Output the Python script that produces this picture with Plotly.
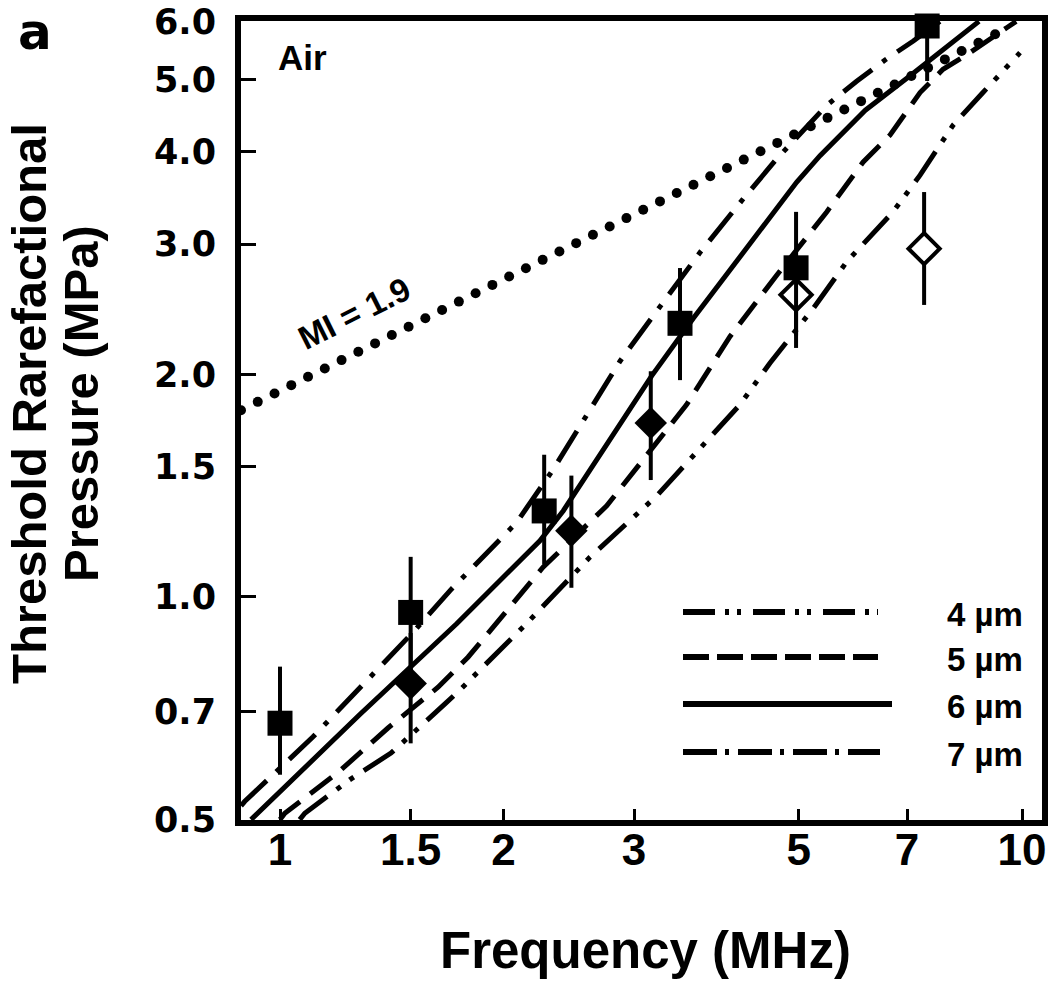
import numpy as np
import plotly.graph_objects as go

# ---------------- data ----------------
# theoretical threshold curves, frequency (MHz) vs pressure (MPa)
f_4um = [1.063, 1.080, 1.241, 1.411, 1.674, 1.746, 2.150, 2.617, 3.219, 4.168, 4.575,
         5.233, 5.804, 6.700, 7.288, 8.072, 8.859, 9.938]
p_4um = [0.500, 0.510, 0.566, 0.615, 0.719, 0.748, 0.921, 1.132, 1.370, 1.820, 2.072,
         2.456, 2.839, 3.315, 3.718, 4.342, 4.808, 5.443]

f_5um = [1.000, 1.015, 1.197, 1.398, 1.633, 1.792, 1.919, 2.262, 2.756, 3.056, 3.532,
         4.041, 4.671, 5.455, 6.105, 6.638, 7.288, 7.826, 8.508, 9.536, 9.82]
p_5um = [0.500, 0.510, 0.579, 0.665, 0.755, 0.829, 0.900, 1.097, 1.328, 1.512, 1.820,
         2.250, 2.723, 3.315, 3.870, 4.210, 4.808, 5.168, 5.443, 5.882, 6.000]

f_6um = [0.914, 1.282, 1.730, 2.240, 2.409, 3.025, 3.169, 3.606, 4.971, 5.343, 6.150,
         7.066, 8.590, 8.75]
p_6um = [0.500, 0.694, 0.920, 1.191, 1.308, 1.850, 1.990, 2.381, 3.638, 3.950, 4.550,
         5.064, 5.913, 6.000]

f_7um = [0.886, 0.896, 1.108, 1.301, 1.519, 1.695, 2.084, 2.335, 2.590, 2.872, 3.252,
         3.681, 4.211, 4.671, 5.455, 5.986, 6.537, 7.137, 7.75]
p_7um = [0.522, 0.529, 0.647, 0.764, 0.901, 1.020, 1.261, 1.488, 1.764, 2.083, 2.469,
         2.922, 3.454, 3.911, 4.620, 4.980, 5.320, 5.645, 6.000]

# measured thresholds
sq_f = [1.0, 1.5, 2.27, 3.46, 4.96, 7.45]
sq_p = [0.675, 0.953, 1.307, 2.344, 2.786, 5.914]
sq_err_plus = [0.13, 0.18, 0.25, 0.44, 0.53, 0.0]
sq_err_minus = [0.10, 0.18, 0.20, 0.38, 0.53, 0.93]

fd_f = [1.5, 2.47, 3.16]
fd_p = [0.764, 1.229, 1.719]
fd_err_plus = [0.13, 0.23, 0.30]
fd_err_minus = [0.13, 0.20, 0.28]

od_f = [4.96, 7.38]
od_p = [2.561, 2.957]
od_err_plus = [0.40, 0.57]
od_err_minus = [0.39, 0.475]

# mechanical index reference line
mi_value = 1.9
mi_f_start, mi_f_end, mi_n_dots = 0.886, 9.2, 46

x_tickvals = [1, 1.5, 2, 3, 5, 7, 10]
x_ticktext = ["1", "1.5", "2", "3", "5", "7", "10"]
y_tickvals = [0.5, 0.7, 1.0, 1.5, 2.0, 3.0, 4.0, 5.0, 6.0]
y_ticktext = ["0.5", "0.7", "1.0", "1.5", "2.0", "3.0", "4.0", "5.0", "6.0"]
x_range = [0.886, 10.64]
y_range = [0.5, 6.0]

legend_labels = ["4 \u00b5m", "5 \u00b5m", "6 \u00b5m", "7 \u00b5m"]

# ---------------- styles ----------------
W, H = 1050, 989
P_LEFT, P_RIGHT, P_TOP, P_BOT = 241, 1042, 21, 820   # plot area in page pixels
ML, MT, MR, MB = P_LEFT, P_TOP, W - P_RIGHT, H - P_BOT
PW, PH = P_RIGHT - P_LEFT, P_BOT - P_TOP

def px_x(px):
    return (px - P_LEFT) / PW

def px_y(py):
    return (P_BOT - py) / PH

ARIAL = "Liberation Sans, Arial, sans-serif"
DEJAVU = "DejaVu Sans, sans-serif"
dash_4 = "36px,12px,5px,11px,5px,12px"
dash_5 = "27px,13px"
dash_6 = "solid"
dash_7 = "36px,13px,5px,13px"
LW = 5

fig = go.Figure()

mi_f = np.geomspace(mi_f_start, mi_f_end, mi_n_dots)
mi_p = mi_value * np.sqrt(mi_f)
fig.add_trace(go.Scatter(x=mi_f, y=mi_p, mode="markers",
                         marker=dict(symbol="circle", size=10, color="black"),
                         showlegend=False, hoverinfo="skip"))

for fx, py, dsh in [(f_7um, p_7um, dash_7), (f_6um, p_6um, dash_6),
                    (f_5um, p_5um, dash_5), (f_4um, p_4um, dash_4)]:
    fig.add_trace(go.Scatter(x=fx, y=py, mode="lines",
                             line=dict(color="black", width=LW, dash=dsh),
                             showlegend=False))

def err(plus, minus):
    return dict(type="data", symmetric=False, array=plus, arrayminus=minus,
                thickness=4, width=0, color="black")

fig.add_trace(go.Scatter(x=od_f, y=od_p, mode="markers", cliponaxis=False,
                         marker=dict(symbol="diamond", size=24, color="white",
                                     line=dict(color="black", width=4)),
                         error_y=err(od_err_plus, od_err_minus), showlegend=False))
fig.add_trace(go.Scatter(x=fd_f, y=fd_p, mode="markers", cliponaxis=False,
                         marker=dict(symbol="diamond", size=25, color="black"),
                         error_y=err(fd_err_plus, fd_err_minus), showlegend=False))
fig.add_trace(go.Scatter(x=sq_f, y=sq_p, mode="markers", cliponaxis=False,
                         marker=dict(symbol="square", size=25, color="black"),
                         error_y=err(sq_err_plus, sq_err_minus), showlegend=False))

# manual legend (long sample lines, labels at right)
leg_rows = [(612, 878, "32px,10px,4px,8px,4px,12px"),
            (657, 878, "26px,8px"),
            (704, 892, "solid"),
            (752, 880, "34px,8px,4px,9px")]
shapes = []
annotations = []
for (ly, lx1, ldash), lab in zip(leg_rows, legend_labels):
    shapes.append(dict(type="line", xref="paper", yref="paper",
                       x0=px_x(683), x1=px_x(lx1), y0=px_y(ly), y1=px_y(ly),
                       line=dict(color="black", width=6, dash=ldash)))
    annotations.append(dict(xref="paper", yref="paper", x=px_x(945), y=px_y(ly + 2),
                            xanchor="left", yanchor="middle", showarrow=False, text=lab,
                            font=dict(family=ARIAL, size=33, color="black", weight="bold")))

annotations += [
    dict(xref="paper", yref="paper", x=px_x(276), y=px_y(58), xanchor="left",
         yanchor="middle", showarrow=False, text="Air",
         font=dict(family=ARIAL, size=35, color="black", weight="bold")),
    dict(xref="paper", yref="paper", x=px_x(354), y=px_y(313), xanchor="center",
         yanchor="middle", showarrow=False, text="MI = 1.9", textangle=-26.6,
         font=dict(family=ARIAL, size=33, color="black", weight="bold")),
    dict(xref="paper", yref="paper", x=px_x(35), y=px_y(1), xanchor="center",
         yanchor="top", showarrow=False, text="a",
         font=dict(family=DEJAVU, size=50, color="black", weight="bold")),
    dict(xref="paper", yref="paper", x=px_x(29), y=px_y(404), xanchor="center",
         yanchor="middle", showarrow=False, textangle=-90,
         text="Threshold Rarefactional",
         font=dict(family=ARIAL, size=49, color="black", weight="bold")),
    dict(xref="paper", yref="paper", x=px_x(81), y=px_y(404), xanchor="center",
         yanchor="middle", showarrow=False, textangle=-90,
         text="Pressure (MPa)",
         font=dict(family=ARIAL, size=49, color="black", weight="bold")),
    dict(xref="paper", yref="paper", x=px_x(645), y=px_y(950), xanchor="center",
         yanchor="middle", showarrow=False, text="Frequency (MHz)",
         font=dict(family=ARIAL, size=51, color="black", weight="bold")),
]

axis_common = dict(showline=True, linewidth=6, linecolor="black", mirror=True,
                   ticks="inside", tickwidth=3, tickcolor="black", automargin=False,
                   showgrid=False, zeroline=False, ticklabeloverflow="allow")

fig.update_layout(
    width=W, height=H, margin=dict(l=ML, r=MR, t=MT, b=MB, autoexpand=False),
    paper_bgcolor="white", plot_bgcolor="white", showlegend=False,
    hovermode=False,
    xaxis=dict(type="log", range=[np.log10(x_range[0]), np.log10(x_range[1])],
               tickvals=x_tickvals, ticktext=x_ticktext, ticklen=11,
               ticklabelstandoff=-14,
               tickfont=dict(family=ARIAL, size=44, color="black", weight="bold"),
               **axis_common),
    yaxis=dict(type="log",
               range=[np.log10(y_range[0]) - 0.0005, np.log10(y_range[1]) + 0.0005],
               tickvals=y_tickvals, ticktext=y_ticktext, ticklen=15,
               ticklabelstandoff=12,
               tickfont=dict(family=DEJAVU, size=35, color="black", weight="bold"),
               **axis_common),
    shapes=shapes, annotations=annotations,
)

# remove the browser's default page margin so the figure fills the window exactly
fig.write_html("out.html",
               config={"displayModeBar": False},
               post_script="document.body.style.margin='0';document.body.style.overflow='hidden';")
